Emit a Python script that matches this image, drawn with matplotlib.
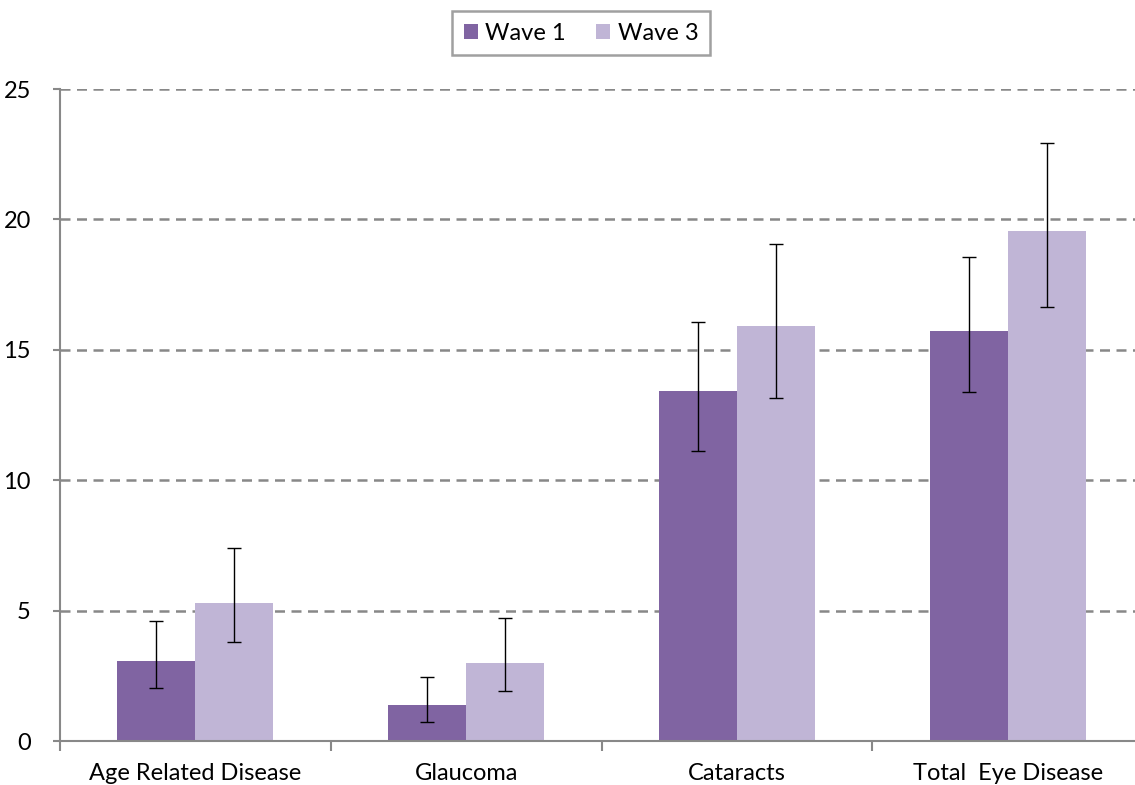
import matplotlib
matplotlib.use("Agg")
import matplotlib.pyplot as plt
import numpy as np

categories = ["Age Related Disease", "Glaucoma", "Cataracts", "Total  Eye Disease"]
wave1 = [3.07, 1.38, 13.42, 15.72]
wave1_lo = [2.03, 0.73, 11.12, 13.38]
wave1_hi = [4.60, 2.45, 16.07, 18.56]
wave3 = [5.29, 2.99, 15.91, 19.55]
wave3_lo = [3.80, 1.92, 13.15, 16.64]
wave3_hi = [7.40, 4.72, 19.06, 22.93]
yticks = [0, 5, 10, 15, 20, 25]

plt.rcParams['font.family'] = ['Lato', 'DejaVu Sans']

fig = plt.figure(figsize=(11.35, 7.85), dpi=100)
ax = fig.add_axes([60/1135, 44/785, 1083/1135, 652/785])

x = np.arange(len(categories))
w = 0.288
c1 = "#8064A2"
c3 = "#C0B5D6"
w1 = np.array(wave1); w3 = np.array(wave3)
err1 = [w1 - np.array(wave1_lo), np.array(wave1_hi) - w1]
err3 = [w3 - np.array(wave3_lo), np.array(wave3_hi) - w3]
ax.bar(x - w/2, w1, w, color=c1, label="Wave 1", zorder=2)
ax.bar(x + w/2, w3, w, color=c3, label="Wave 3", zorder=2)
ax.errorbar(x - w/2, w1, yerr=err1, fmt="none", ecolor="black", elinewidth=1.0, capsize=5, capthick=1.0, zorder=3)
ax.errorbar(x + w/2, w3, yerr=err3, fmt="none", ecolor="black", elinewidth=1.0, capsize=5, capthick=1.0, zorder=3)

ax.set_xlim(-0.5, 3.5)
ax.set_ylim(0, 25)
ax.set_yticks(yticks)
ax.set_yticklabels([str(v) for v in yticks], fontsize=17)
ax.yaxis.grid(True, linestyle=(0, (4, 2.6)), color="#888888", linewidth=1.8, zorder=0)
ax.set_axisbelow(True)

ax.set_xticks(x)
ax.set_xticklabels(categories, fontsize=17)
ax.tick_params(axis='x', length=0, pad=16)
ax.set_xticks(np.arange(-0.5, 3.5, 1), minor=True)
ax.tick_params(axis='x', which='minor', length=7, width=1.5, color="#888888")
ax.tick_params(axis='y', length=5, width=1.5, color="#888888", pad=16)

for s in ["top", "right"]:
    ax.spines[s].set_visible(False)
for s in ["left", "bottom"]:
    ax.spines[s].set_color("#888888")
    ax.spines[s].set_linewidth(1.5)

leg = fig.legend(loc="center", bbox_to_anchor=(581/1135, 1 - 33/785), ncol=2, fontsize=17,
                 frameon=True, fancybox=False, handlelength=0.6, handleheight=0.6,
                 handletextpad=0.3, columnspacing=1.3, borderpad=0.5)
leg.get_frame().set_edgecolor("#888888")
leg.get_frame().set_linewidth(1.8)

fig.savefig("out.png", dpi=100)
